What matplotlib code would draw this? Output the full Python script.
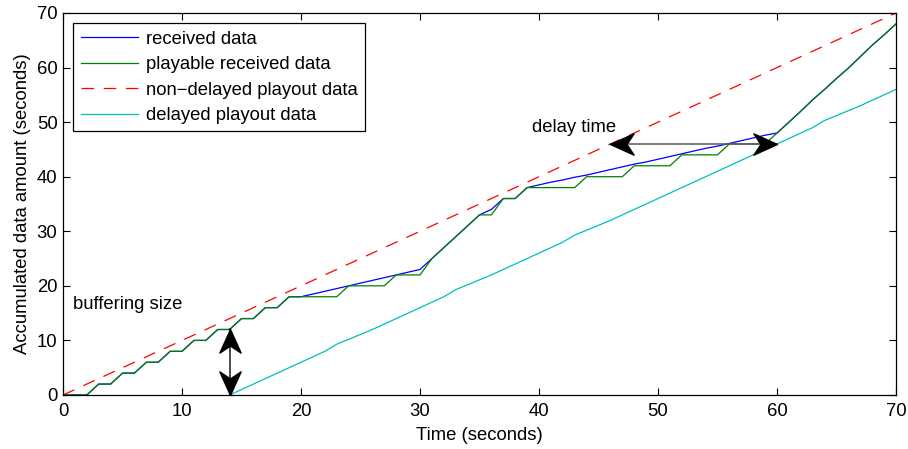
import matplotlib
matplotlib.use('Agg')
import matplotlib.pyplot as plt
from matplotlib.path import Path

plt.rcParams['font.family'] = ['Liberation Sans', 'DejaVu Sans']
plt.rcParams['lines.scale_dashes'] = False

# time axis, one sample per second
t = list(range(0, 71))

received = [0, 0, 0, 2, 2, 4, 4, 6, 6, 8, 8, 10, 10, 12, 12, 14, 14, 16, 16, 18,
            18, 18.5, 19, 19.5, 20, 20.5, 21, 21.5, 22, 22.5, 23,
            25, 27, 29, 31, 33, 34, 36, 36, 38,
            38.5, 39, 39.4, 39.9, 40.3, 40.8, 41.3, 41.8, 42.3, 42.7, 43.2,
            43.7, 44.2, 44.7, 45.2, 45.6, 46.1, 46.6, 47.1, 47.6, 48,
            50, 52, 54.1, 56, 58, 59.9, 62, 64.1, 66, 68]

playable = [0, 0, 0, 2, 2, 4, 4, 6, 6, 8, 8, 10, 10, 12, 12, 14, 14, 16, 16, 18,
            18, 18, 18, 18, 20, 20, 20, 20, 22, 22, 22,
            25, 27, 29, 31, 33, 33, 36, 36, 38,
            38, 38, 38, 38, 40, 40, 40, 40, 42, 42, 42,
            42, 44, 44, 44, 44, 46, 46, 46, 46, 48,
            50, 52, 54.1, 56, 58, 59.9, 62, 64.1, 66, 68]

nondelayed_t = [0, 70]
nondelayed = [0, 70]

delayed_t = list(range(14, 71))
delayed = [0, 1, 2, 3, 4, 5, 6, 7, 8, 9.3, 10.2, 11.1, 12, 13, 14, 15, 16, 17, 18, 19.3,
           20.2, 21.1, 22, 23, 24, 25, 26, 27, 28, 29.3, 30.2, 31.1, 32, 33, 34, 35,
           36, 37, 38, 39, 40, 41, 42, 43, 44, 45, 46, 47, 48, 49, 50.3, 51.2, 52.1, 53,
           54, 55, 56]

# double arrows: (x0, y0, x1, y1)
buffer_arrow = (14, 0, 14, 12)
delay_arrow = (46, 46, 60, 46)

fig = plt.figure(figsize=(9.08, 4.49), dpi=100)
ax = fig.add_axes([0.0694, 0.1203, 0.9174, 0.8508])

ax.plot(t, received, color='b', linewidth=0.9, label='received data')
ax.plot(t, playable, color=(0, 0.5, 0), linewidth=0.9, label='playable received data')
ax.plot(nondelayed_t, nondelayed, color='r', linewidth=0.9, linestyle=(0, (9, 7)),
        label='non\u2212delayed playout data')
ax.plot(delayed_t, delayed, color=(0, 0.75, 0.75), linewidth=0.9, label='delayed playout data')


def head(dx, dy):
    # swept-back arrow head with its tip at the origin, pointing along (dx, dy)
    base = [(0, 0), (-1, 0.45), (-0.7, 0), (-1, -0.45), (0, 0)]
    pts = [(x * dx - y * dy, x * dy + y * dx) for x, y in base]
    return Path(pts, [Path.MOVETO, Path.LINETO, Path.LINETO, Path.LINETO, Path.CLOSEPOLY])


def double_arrow(x0, y0, x1, y1, shaft):
    ax.plot([x0, x1], [y0, y1], color=shaft, linewidth=1.1, zorder=4)
    dx = 1 if x1 > x0 else (-1 if x1 < x0 else 0)
    dy = 1 if y1 > y0 else (-1 if y1 < y0 else 0)
    ax.plot([x1], [y1], marker=head(dx, dy), markersize=34, color='black', zorder=5)
    ax.plot([x0], [y0], marker=head(-dx, -dy), markersize=34, color='black', zorder=5)


double_arrow(*buffer_arrow, shaft='0.1')
double_arrow(*delay_arrow, shaft='0.35')

ax.text(0.8, 16.5, 'buffering size', fontsize=13.3, va='center', ha='left')
ax.text(39.4, 49.1, 'delay time', fontsize=13.3, va='center', ha='left')

ax.set_xlim(0, 70)
ax.set_ylim(0, 70)
ax.set_xticks(range(0, 71, 10))
ax.set_yticks(range(0, 71, 10))
ax.tick_params(direction='in', length=5, width=0.8, top=True, right=True, labelsize=13.3)
ax.tick_params(axis='x', pad=6)
ax.tick_params(axis='y', pad=4)
for s in ax.spines.values():
    s.set_linewidth(0.9)

ax.set_xlabel('Time (seconds)', fontsize=13.3, labelpad=5)
ax.set_ylabel('Accumulated data amount (seconds)', fontsize=13.3, labelpad=4)

leg = ax.legend(loc='upper left', fontsize=13.3, handlelength=3.1, handletextpad=0.45,
                labelspacing=0.46, borderaxespad=0.55, fancybox=False, framealpha=1,
                edgecolor='black', borderpad=0.4)
leg.get_frame().set_linewidth(0.9)

fig.savefig('out.png', dpi=100)
